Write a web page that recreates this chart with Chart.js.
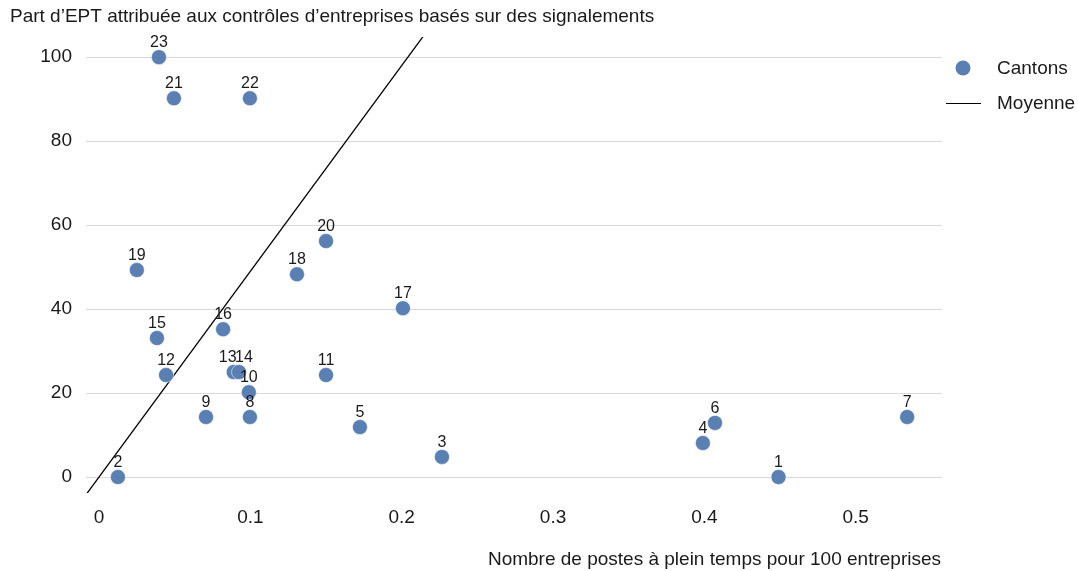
<!DOCTYPE html>
<html>
<head>
<meta charset="utf-8">
<script src="https://cdn.jsdelivr.net/npm/chart.js@4"></script>
<style>
  html, body { margin: 0; padding: 0; background: #fff; }
  #wrap { width: 1078px; height: 571px; }
</style>
</head>
<body>
<div id="wrap"><canvas id="chart" width="1078" height="571"></canvas></div>
<script>
// données
const cantonIds = [1, 2, 3, 4, 5, 6, 7, 8, 9, 10, 11, 12, 13, 14, 15, 16, 17, 18, 19, 20, 21, 22, 23];
const postes = [0.449, 0.0125, 0.2266, 0.399, 0.1724, 0.407, 0.534, 0.0997, 0.0707, 0.099, 0.150, 0.0443,
                0.089, 0.0925, 0.0383, 0.082, 0.2008, 0.1308, 0.025, 0.150, 0.0495, 0.0997, 0.0396];
const partEPT = [0, 0, 4.8, 8.1, 11.9, 12.9, 14.3, 14.3, 14.3, 20.2, 24.3, 24.3,
                 25, 25, 33.1, 35.2, 40.2, 48.3, 49.3, 56.2, 90.2, 90.2, 100];
// droite "Moyenne" : y = pente * x
const moyennePente = 490;
const moyenneX = [-0.02, 0.25];

const xTicks = [0, 0.1, 0.2, 0.3, 0.4, 0.5];
const yTicks = [0, 20, 40, 60, 80, 100];

const titreY = "Part d\u2019EPT attribu\u00e9e aux contr\u00f4les d\u2019entreprises bas\u00e9s sur des signalements";
const titreX = "Nombre de postes \u00e0 plein temps pour 100 entreprises";

const pointColor = '#5a7fb2';
const textColor = '#1a1a1a';
const FONT = '"Liberation Sans", Arial, sans-serif';

// petits décalages pour les étiquettes qui se chevauchent
const labelShift = { 13: -6, 14: 5 };

const labelsPlugin = {
  id: 'pointLabels',
  afterDatasetsDraw(chart) {
    const ctx = chart.ctx;
    const meta = chart.getDatasetMeta(0);
    ctx.save();
    ctx.font = '16px ' + FONT;
    ctx.fillStyle = textColor;
    ctx.textAlign = 'center';
    ctx.textBaseline = 'alphabetic';
    meta.data.forEach((pt, i) => {
      const id = cantonIds[i];
      ctx.fillText(String(id), pt.x + (labelShift[id] || 0), pt.y - 10);
    });
    ctx.restore();
  }
};

const textPlugin = {
  id: 'extraText',
  afterDraw(chart) {
    const ctx = chart.ctx;
    const area = chart.chartArea;
    ctx.save();
    ctx.fillStyle = textColor;
    ctx.font = '19px ' + FONT;
    ctx.textBaseline = 'middle';
    // titre de l'axe vertical, en haut
    ctx.textAlign = 'left';
    ctx.fillText(titreY, 10, 17);
    // titre de l'axe horizontal, en bas à droite
    ctx.textAlign = 'right';
    ctx.fillText(titreX, area.right - 1, 560);

    // légende
    ctx.textAlign = 'left';
    ctx.beginPath();
    ctx.arc(963, 68, 7.5, 0, Math.PI * 2);
    ctx.fillStyle = pointColor;
    ctx.fill();
    ctx.fillStyle = textColor;
    ctx.fillText('Cantons', 997, 69);
    ctx.beginPath();
    ctx.moveTo(946, 103.5);
    ctx.lineTo(981, 103.5);
    ctx.strokeStyle = '#000';
    ctx.lineWidth = 1;
    ctx.stroke();
    ctx.fillText('Moyenne', 997, 104);
    ctx.restore();
  }
};

new Chart(document.getElementById('chart'), {
  type: 'scatter',
  data: {
    datasets: [
      {
        label: 'Cantons',
        data: postes.map((x, i) => ({ x: x, y: partEPT[i] })),
        backgroundColor: pointColor,
        borderColor: 'rgba(255,255,255,0.5)',
        borderWidth: 1,
        pointRadius: 7.5,
        pointHoverRadius: 7.5,
        order: 1
      },
      {
        label: 'Moyenne',
        type: 'line',
        data: moyenneX.map(x => ({ x: x, y: moyennePente * x })),
        borderColor: '#000',
        borderWidth: 1.3,
        pointRadius: 0,
        fill: false,
        order: 2
      }
    ]
  },
  options: {
    responsive: false,
    animation: false,
    layout: { padding: { top: 37, right: 136, left: 0, bottom: 0 } },
    plugins: {
      legend: { display: false },
      title: { display: false },
      tooltip: { enabled: false }
    },
    scales: {
      x: {
        type: 'linear',
        min: -0.0086,
        max: 0.557,
        afterBuildTicks: s => { s.ticks = xTicks.map(v => ({ value: v })); },
        afterFit: s => { s.height = 78; },
        grid: { display: false, drawTicks: false },
        border: { display: false },
        ticks: {
          color: textColor,
          font: { family: FONT, size: 19 },
          padding: 13,
          callback: v => String(v)
        }
      },
      y: {
        type: 'linear',
        min: -3.8,
        max: 104.8,
        afterBuildTicks: s => { s.ticks = yTicks.map(v => ({ value: v })); },
        afterFit: s => { s.width = 86; },
        grid: { color: '#d9d9d9', lineWidth: 1, drawTicks: false },
        border: { display: false },
        ticks: {
          color: textColor,
          font: { family: FONT, size: 19 },
          padding: 14
        }
      }
    }
  },
  plugins: [labelsPlugin, textPlugin]
});
</script>
</body>
</html>
